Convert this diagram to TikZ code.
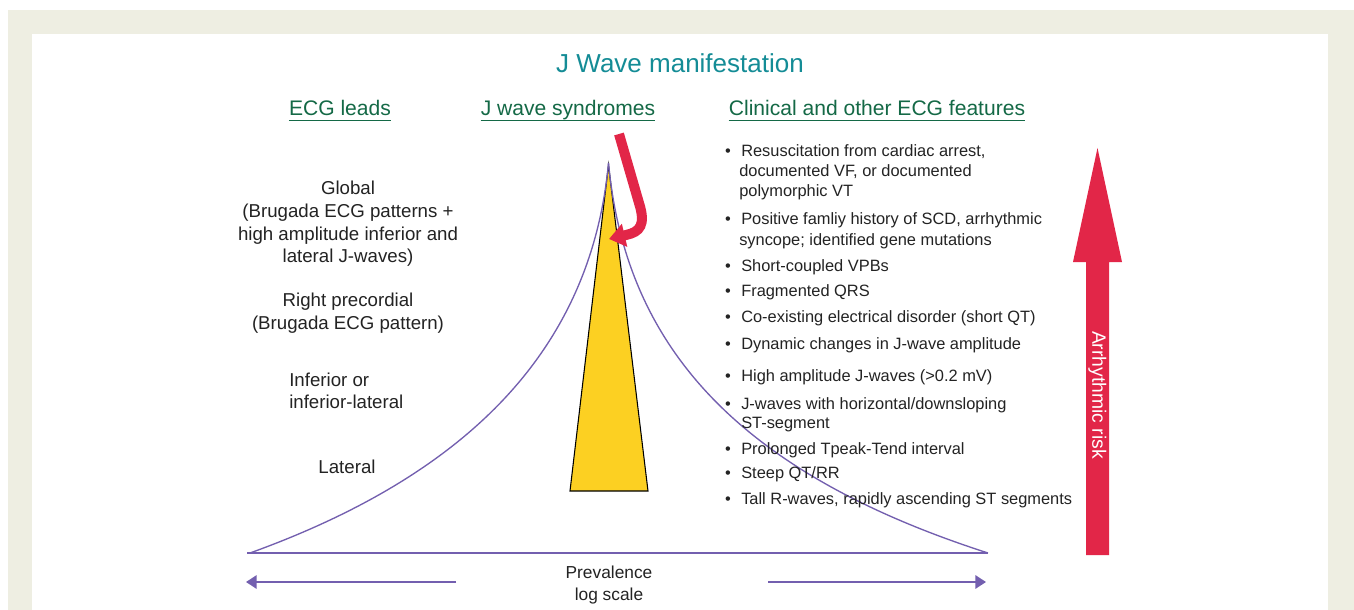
\documentclass[tikz,border=0pt]{standalone}
\usepackage{fontspec}
\setmainfont{Liberation Sans}
\usetikzlibrary{arrows.meta}
\definecolor{framebg}{RGB}{238,238,226}
\definecolor{ttl}{RGB}{20,140,150}
\definecolor{hdg}{RGB}{20,105,70}
\definecolor{purp}{RGB}{115,95,175}
\definecolor{jyel}{RGB}{252,208,34}
\definecolor{jred}{RGB}{226,38,72}
\definecolor{txt}{RGB}{35,35,35}
\begin{document}
\begin{tikzpicture}[x=0.75pt,y=-0.75pt,
  lt/.style={font=\fontsize{14}{17}\selectfont, text=txt, inner sep=0pt, anchor=mid},
  ltl/.style={lt, anchor=mid west},
  bt/.style={font=\fontsize{12.3}{15}\selectfont, text=txt, inner sep=0pt, anchor=mid west},
  bul/.style={font=\fontsize{12.3}{15}\selectfont, text=txt, inner sep=0pt, anchor=mid},
  hd/.style={font=\fontsize{15.8}{19}\selectfont, text=hdg, inner sep=0pt, anchor=mid},
  uline/.style={draw=hdg, line width=1pt},
  pcurve/.style={draw=purp, line width=1pt},
  parrow/.style={draw=purp, line width=1.5pt, -{Triangle[length=8pt,width=10pt]}},
  prv/.style={font=\fontsize{13}{16}\selectfont, text=txt, inner sep=0pt, anchor=mid}]
\useasboundingbox (0,0) rectangle (1354,610);
% frame
\fill[framebg] (8,10) rectangle (1354,610);
\fill[white] (32,34) rectangle (1328,610);
% title and headings
\node[font=\fontsize{19.5}{23}\selectfont, text=ttl, inner sep=0pt, anchor=mid] (title) at (680,69) {J Wave manifestation};
\node[hd] (h1) at (340,112) {ECG leads};
\node[hd] (h2) at (568,112) {J wave syndromes};
\node[hd] (h3) at (877,112) {Clinical and other ECG features};
\foreach \h in {h1,h2,h3}{
  \draw[uline] ([yshift=-3.5pt]\h.base west) -- ([yshift=-3.5pt]\h.base east);
}
% left texts
\node[lt] (g1) at (348,191) {Global};
\node[lt] (g2) at (348,214) {(Brugada ECG patterns +};
\node[lt] (g3) at (348,237) {high amplitude inferior and};
\node[lt] (g4) at (348,259) {lateral J-waves)};
\node[lt] (r1) at (348,303) {Right precordial};
\node[lt] (r2) at (348,326) {(Brugada ECG pattern)};
\node[ltl] (i1) at (289,383) {Inferior or};
\node[ltl] (i2) at (289,405) {inferior-lateral};
\node[lt] (l1) at (347,470) {Lateral};
% triangle
\coordinate (apex) at (608.5,165);
\coordinate (tbr) at (648,491);
\coordinate (tbl) at (570,491);
\filldraw[fill=jyel, draw=black, line width=0.8pt, line join=miter] (apex) -- (tbr) -- (tbl) -- cycle;
% curves and baseline
\coordinate (bl) at (247,553);
\coordinate (br) at (988,553);
\coordinate (cl) at (250,553);
\coordinate (top) at (608.5,163);
\draw[pcurve] (bl) -- (br);
\draw[pcurve] (cl) .. controls (480,470) and (592,340) .. (top);
\draw[pcurve] (br) .. controls (730,470) and (625,340) .. (top);
% red hook arrow
\coordinate (hs) at (619,134);
\coordinate (he) at (609,239);
\draw[jred, line width=7.5pt, -{Triangle[length=12pt,width=17pt]}] (hs) -- (639,203) .. controls (646,225) and (640,232) .. (626,235) -- (he);
% bottom arrows
\coordinate (la0) at (456,582);
\coordinate (la1) at (246,582);
\coordinate (ra0) at (768,582);
\coordinate (ra1) at (986,582);
\draw[parrow] (la0) -- (la1);
\draw[parrow] (ra0) -- (ra1);
\node[prv] (prev1) at (609,575) {Prevalence};
\node[prv] (prev2) at (609,597) {log scale};
% big red arrow
\fill[jred] (1086,555) -- (1086,262) -- (1073,262) -- (1097.5,148) -- (1122,262) -- (1109,262) -- (1109,555) -- cycle;
\node[font=\fontsize{14.5}{17}\selectfont, text=white, inner sep=0pt, rotate=-90, anchor=mid] (risk) at (1096,395) {Arrhythmic risk};
% bullets
\node[bul] (b1) at (728,153) {•};
\node[bt] (t1a) at (741,153) {Resuscitation from cardiac arrest,};
\node[bt] (t1b) at (739,173) {documented VF, or documented};
\node[bt] (t1c) at (739,193) {polymorphic VT};
\node[bul] (b2) at (728,221) {•};
\node[bt] (t2a) at (741,221) {Positive famliy history of SCD, arrhythmic};
\node[bt] (t2b) at (739,242) {syncope; identified gene mutations};
\node[bul] (b3) at (728,268) {•};
\node[bt] (t3) at (741,268) {Short-coupled VPBs};
\node[bul] (b4) at (728,293) {•};
\node[bt] (t4) at (741,293) {Fragmented QRS};
\node[bul] (b5) at (728,319) {•};
\node[bt] (t5) at (741,319) {Co-existing electrical disorder (short QT)};
\node[bul] (b6) at (728,346) {•};
\node[bt] (t6) at (741,346) {Dynamic changes in J-wave amplitude};
\node[bul] (b7) at (728,378) {•};
\node[bt] (t7) at (741,378) {High amplitude J-waves (>0.2 mV)};
\node[bul] (b8) at (728,406) {•};
\node[bt] (t8a) at (741,406) {J-waves with horizontal/downsloping};
\node[bt] (t8b) at (741,425) {ST-segment};
\node[bul] (b9) at (728,451) {•};
\node[bt] (t9) at (741,451) {Prolonged Tpeak-Tend interval};
\node[bul] (b10) at (728,475) {•};
\node[bt] (t10) at (741,475) {Steep QT/RR};
\node[bul] (b11) at (728,501) {•};
\node[bt] (t11) at (741,501) {Tall R-waves, rapidly ascending ST segments};
\end{tikzpicture}
\end{document}
